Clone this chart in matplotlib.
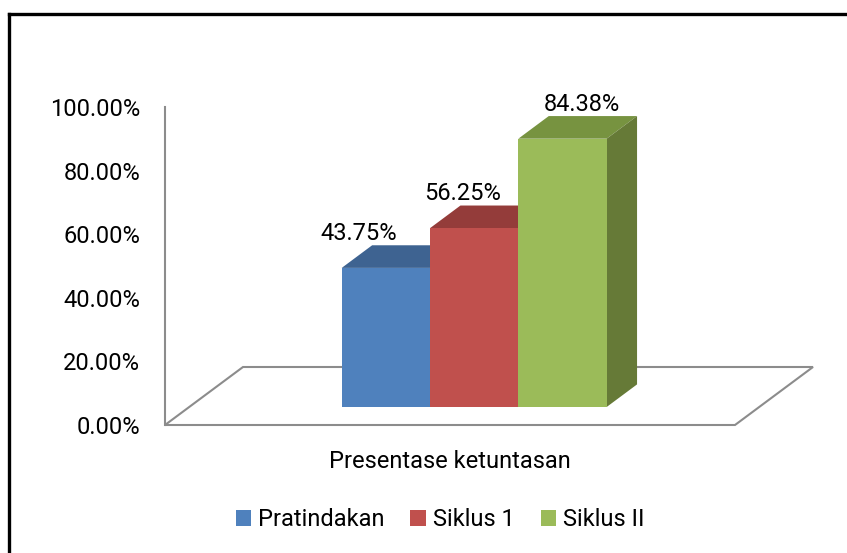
import matplotlib.pyplot as plt
from matplotlib.patches import Polygon, Patch
from matplotlib.lines import Line2D

plt.rcParams['font.family'] = ['Roboto', 'DejaVu Sans']

series = ['Pratindakan', 'Siklus 1', 'Siklus II']
values = [43.75, 56.25, 84.38]
category = 'Presentase ketuntasan'
yticks = [0, 20, 40, 60, 80, 100]

front_colors = ['#4f81bd', '#c0504d', '#9bbb59']
top_colors = ['#3e6391', '#943c3a', '#779340']
side_colors = ['#3a5a85', '#8a3735', '#667a37']

fs = 17

fig = plt.figure(figsize=(8.47, 5.53), dpi=100)
ax = fig.add_axes([165 / 847, 128 / 553, 570 / 847, 318 / 553])

# the x unit is one bar width, y is percent
xmax = 570 / 88.3
ax.set_xlim(0, xmax)
ax.set_ylim(0, 100)

# depth of the floor, and where the bars sit in it
dx, dy = 78 / 88.3, 58 / 3.18
f0, fd = 0.31, 0.39

# floor outline
floor = Polygon([(0, 0), (xmax, 0), (xmax + dx, dy), (dx, dy)],
                closed=True, fill=False, edgecolor='#8c8c8c', lw=1.5,
                clip_on=False, zorder=1)
ax.add_patch(floor)

base = f0 * dy
center = xmax / 2 + f0 * dx
bdx, bdy = fd * dx, fd * dy
label_shift = [-0.48, -0.30, 0.05]

for i, v in enumerate(values):
    x0 = center - 1.5 + i
    x1 = x0 + 1
    y1 = base + v
    top = Polygon([(x0, y1), (x1, y1), (x1 + bdx, y1 + bdy), (x0 + bdx, y1 + bdy)],
                  closed=True, facecolor=top_colors[i], edgecolor='none',
                  clip_on=False, zorder=2)
    side = Polygon([(x1, base), (x1 + bdx, base + bdy), (x1 + bdx, y1 + bdy), (x1, y1)],
                   closed=True, facecolor=side_colors[i], edgecolor='none',
                   clip_on=False, zorder=2)
    ax.add_patch(top)
    ax.add_patch(side)
    ax.bar(x0, v, width=1, bottom=base, align='edge', color=front_colors[i],
           zorder=2, clip_on=False)
    ax.text(x0 + 0.5 + bdx / 2 + label_shift[i], y1 + bdy + 1.6, f'{v:.2f}%',
            ha='center', va='baseline', fontsize=fs, color='black', zorder=3)

ax.set_yticks(yticks)
ax.set_yticklabels([f'{t:.2f}%' for t in yticks])
ax.tick_params(axis='y', length=0, pad=18, labelsize=fs)
ax.set_xticks([])
for s in ['top', 'right', 'bottom']:
    ax.spines[s].set_visible(False)
ax.spines['left'].set_color('#8c8c8c')
ax.spines['left'].set_linewidth(1.5)
ax.patch.set_visible(False)

fig.text(450 / 847, 1 - 461 / 553, category, ha='center', va='center', fontsize=fs)

handles = [Patch(facecolor=c, edgecolor='none') for c in front_colors]
fig.legend(handles, series, loc='center', bbox_to_anchor=(440 / 847, 1 - 520 / 553),
           ncol=3, frameon=False, fontsize=fs, handlelength=0.65, handleheight=0.65,
           handletextpad=0.3, columnspacing=1.1)

# chart border (runs off the right and bottom of the image)
fig.add_artist(Line2D([9 / 847, 9 / 847], [1 - 14 / 553, -0.1], color='black', lw=2.4,
                      transform=fig.transFigure))
fig.add_artist(Line2D([9 / 847, 1.1], [1 - 14 / 553, 1 - 14 / 553], color='black', lw=2.4,
                      transform=fig.transFigure))

fig.savefig('out.png', dpi=100)
